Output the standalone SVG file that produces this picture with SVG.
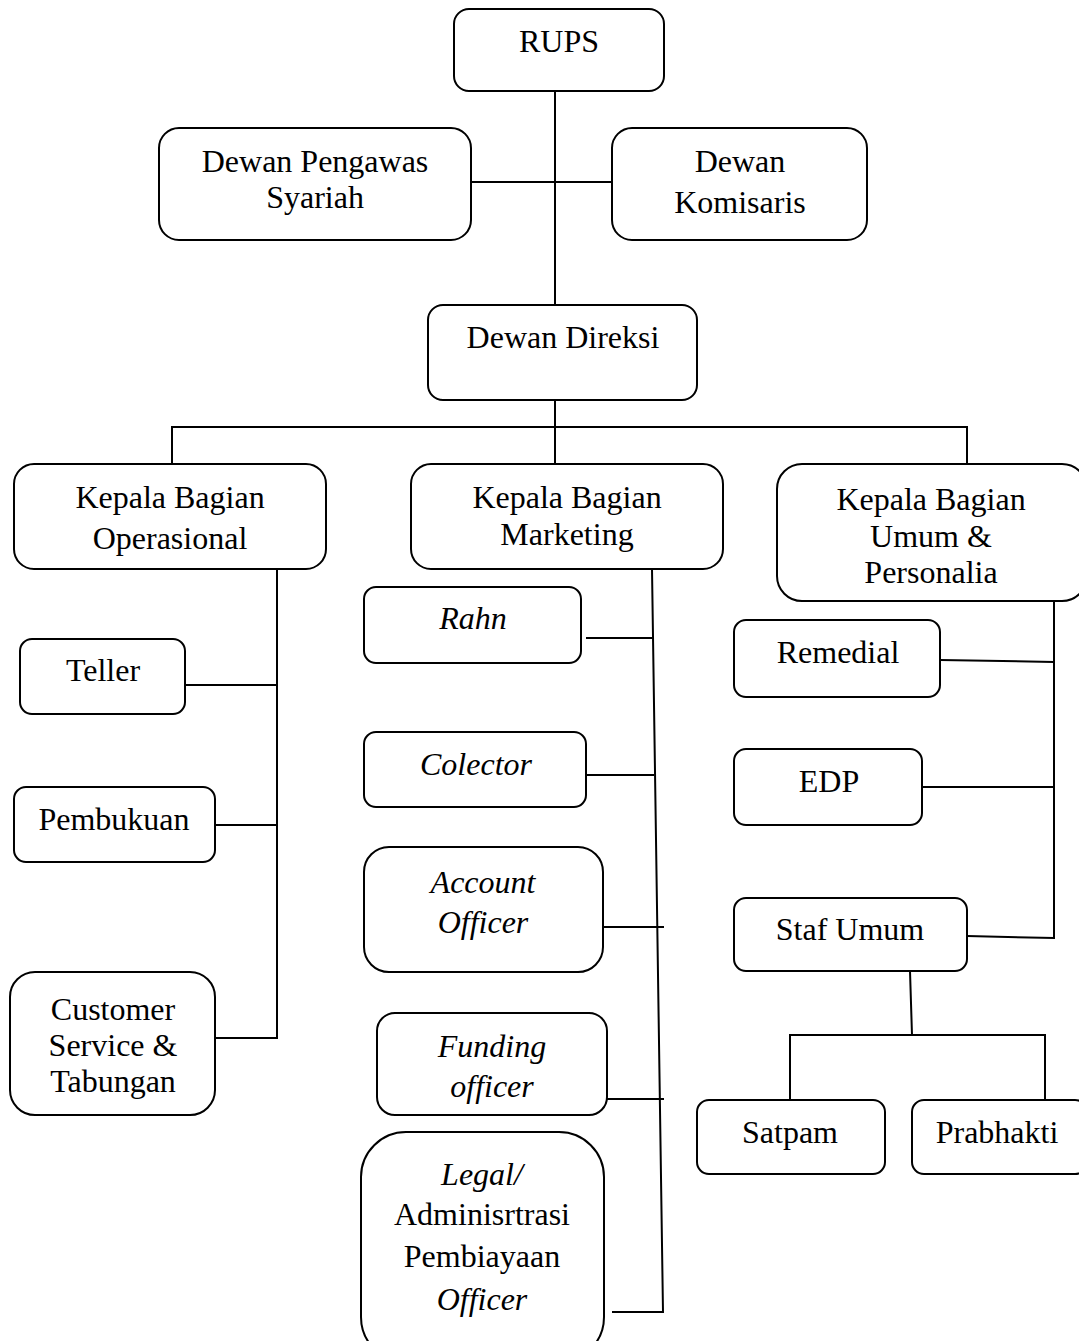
<svg xmlns="http://www.w3.org/2000/svg" width="1079" height="1341" viewBox="0 0 1079 1341">
<style>
.b{fill:#fff;stroke:#000;stroke-width:2}
.t{font-family:"Liberation Serif","Times New Roman",serif;font-size:32px;fill:#000;text-anchor:middle}
.i{font-style:italic}
.c{fill:none;stroke:#000;stroke-width:2}
</style>
<rect width="1079" height="1341" fill="#fff"/>
<g id="connectors">
<path class="c" d="M555 91V305M471 182H612"/>
<path class="c" d="M555 400V464M172 464V427H967V464"/>
<path class="c" d="M277 569V1038H215M185 685H277M215 825H277"/>
<path class="c" d="M652 569L663 1312H612M586 638H653M586 775H654M603 927H664M605 1099H664"/>
<path class="c" d="M1054 601V938L967 936M940 660L1054 662M922 787H1054"/>
<path class="c" d="M910 971L912 1035M790 1100V1035H1045V1100"/>
</g>
<g id="rups"><rect class="b" x="454" y="9" width="210" height="82" rx="15"/><text class="t" x="559" y="52">RUPS</text></g>
<g id="dps"><rect class="b" x="159" y="128" width="312" height="112" rx="20"/><text class="t" x="315" y="172">Dewan Pengawas</text><text class="t" x="315" y="208">Syariah</text></g>
<g id="komisaris"><rect class="b" x="612" y="128" width="255" height="112" rx="20"/><text class="t" x="740" y="172">Dewan</text><text class="t" x="740" y="213">Komisaris</text></g>
<g id="direksi"><rect class="b" x="428" y="305" width="269" height="95" rx="15"/><text class="t" x="563" y="348">Dewan Direksi</text></g>
<g id="operasional"><rect class="b" x="14" y="464" width="312" height="105" rx="20"/><text class="t" x="170" y="508">Kepala Bagian</text><text class="t" x="170" y="549">Operasional</text></g>
<g id="marketing"><rect class="b" x="411" y="464" width="312" height="105" rx="20"/><text class="t" x="567" y="508">Kepala Bagian</text><text class="t" x="567" y="545">Marketing</text></g>
<g id="umum"><rect class="b" x="777" y="464" width="310" height="137" rx="25"/><text class="t" x="931" y="510">Kepala Bagian</text><text class="t" x="931" y="547">Umum &amp;</text><text class="t" x="931" y="583">Personalia</text></g>
<g id="teller"><rect class="b" x="20" y="639" width="165" height="75" rx="12"/><text class="t" x="103" y="681">Teller</text></g>
<g id="pembukuan"><rect class="b" x="14" y="787" width="201" height="75" rx="12"/><text class="t" x="114" y="830">Pembukuan</text></g>
<g id="cs"><rect class="b" x="10" y="972" width="205" height="143" rx="25"/><text class="t" x="113" y="1020">Customer</text><text class="t" x="113" y="1056">Service &amp;</text><text class="t" x="113" y="1092">Tabungan</text></g>
<g id="rahn"><rect class="b" x="364" y="587" width="217" height="76" rx="12"/><text class="t i" x="473" y="629">Rahn</text></g>
<g id="colector"><rect class="b" x="364" y="732" width="222" height="75" rx="12"/><text class="t i" x="476" y="775">Colector</text></g>
<g id="ao"><rect class="b" x="364" y="847" width="239" height="125" rx="25"/><text class="t i" x="483" y="893">Account</text><text class="t i" x="483" y="933">Officer</text></g>
<g id="funding"><rect class="b" x="377" y="1013" width="230" height="102" rx="18"/><text class="t i" x="492" y="1057">Funding</text><text class="t i" x="492" y="1097">officer</text></g>
<g id="legal"><rect class="b" x="361" y="1132" width="243" height="230" rx="45"/><text class="t i" x="482" y="1185">Legal/</text><text class="t" x="482" y="1225">Adminisrtrasi</text><text class="t" x="482" y="1267">Pembiayaan</text><text class="t i" x="482" y="1310">Officer</text></g>
<g id="remedial"><rect class="b" x="734" y="620" width="206" height="77" rx="12"/><text class="t" x="838" y="663">Remedial</text></g>
<g id="edp"><rect class="b" x="734" y="749" width="188" height="76" rx="12"/><text class="t" x="829" y="792">EDP</text></g>
<g id="staf"><rect class="b" x="734" y="898" width="233" height="73" rx="12"/><text class="t" x="850" y="940">Staf Umum</text></g>
<g id="satpam"><rect class="b" x="697" y="1100" width="188" height="74" rx="12"/><text class="t" x="790" y="1143">Satpam</text></g>
<g id="prabhakti"><rect class="b" x="912" y="1100" width="175" height="74" rx="12"/><text class="t" x="997" y="1143">Prabhakti</text></g>
</svg>
